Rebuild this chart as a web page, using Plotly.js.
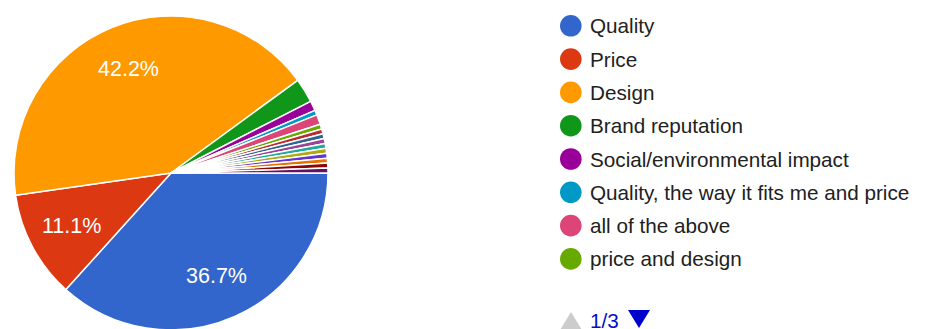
<!DOCTYPE html>
<html>
<head>
<meta charset="utf-8">
<script src="https://cdn.plot.ly/plotly-3.0.1.min.js"></script>
<style>
  html, body { margin: 0; padding: 0; background: #ffffff; overflow: hidden; }
  #chart { width: 926px; height: 340px; }
</style>
</head>
<body>
<div id="chart"></div>
<script>
// Survey answers: what matters most when choosing clothes (199 responses)
const answers = [
  "Quality", "Price", "Design", "Brand reputation",
  "Social/environmental impact", "Quality, the way it fits me and price",
  "all of the above", "price and design",
  "Other answer 9", "Other answer 10", "Other answer 11", "Other answer 12",
  "Other answer 13", "Other answer 14", "Other answer 15", "Other answer 16",
  "Other answer 17"
];
const responses = [73, 22, 84, 5, 2, 1, 2, 1, 1, 1, 1, 1, 1, 1, 1, 1, 1];
const sliceColors = [
  "#3366cc", "#dc3912", "#ff9900", "#109618", "#990099", "#0099c6",
  "#dd4477", "#66aa00", "#b82e2e", "#316395", "#994499", "#22aa99",
  "#aaaa11", "#6633cc", "#e67300", "#8b0707", "#651067"
];
// legend shows the first page of answers
const legendPageSize = 8;
const legendPage = "1/3";
// only slices at least this share get a percent label
const labelMinShare = 0.05;

const W = 926, H = 340;
const px = v => v / W;
const py = v => (H - v) / H;

// pie geometry in pixels
const pieLeft = 14, pieRight = 328, pieTop = 16, pieBottom = 330;
const cx = (pieLeft + pieRight) / 2, cy = (pieTop + pieBottom) / 2;
const radius = (pieRight - pieLeft) / 2;
const startDeg = 90; // first slice starts at 3 o'clock, runs clockwise

const pie = {
  type: "pie",
  labels: answers,
  values: responses,
  sort: false,
  direction: "clockwise",
  rotation: startDeg,
  marker: { colors: sliceColors, line: { color: "#ffffff", width: 1.5 } },
  textinfo: "none",
  showlegend: false,
  hoverinfo: "label+percent",
  domain: { x: [px(pieLeft), px(pieRight)], y: [py(pieBottom), py(pieTop)] }
};

const shapes = [];
const annotations = [];
const labelFont = { family: "Liberation Sans, Arial, sans-serif", size: 20.7, color: "#212121" };

// percent labels placed along each large slice's middle angle
const total = responses.reduce((a, b) => a + b, 0);
let cum = 0;
responses.forEach((v, i) => {
  const share = v / total;
  const midFrac = cum + share / 2;
  cum += share;
  if (share < labelMinShare) return;
  const ang = midFrac * 2 * Math.PI; // clockwise from 3 o'clock
  const lx = cx + Math.cos(ang) * radius * 0.715;
  const ly = cy + Math.sin(ang) * radius * 0.715;
  annotations.push({
    xref: "paper", yref: "paper", x: px(lx), y: py(ly),
    xanchor: "center", yanchor: "middle", showarrow: false,
    text: (share * 100).toFixed(1) + "%",
    font: { family: "Liberation Sans Narrow, Arial Narrow, Liberation Sans, sans-serif", size: 21.5, color: "#ffffff" }
  });
});

// legend rows: coloured dot + answer text
const rowTop = 25.8, rowStep = 33.3;
for (let i = 0; i < legendPageSize; i++) {
  const ry = rowTop + i * rowStep;
  shapes.push({
    type: "circle", xref: "paper", yref: "paper",
    xsizemode: "pixel", ysizemode: "pixel",
    xanchor: px(570.8), yanchor: py(ry),
    x0: -10.8, x1: 10.8, y0: -10.8, y1: 10.8,
    fillcolor: sliceColors[i], line: { width: 0 }
  });
  annotations.push({
    xref: "paper", yref: "paper", x: px(588), y: py(ry),
    xanchor: "left", yanchor: "middle", showarrow: false,
    text: answers[i], font: labelFont
  });
}

// pager below the legend
const tri = pts => "M " + pts.map(p => px(p[0]) + "," + py(p[1])).join(" L ") + " Z";
shapes.push({
  type: "path", xref: "paper", yref: "paper",
  path: tri([[560, 330], [571, 312], [582, 330]]),
  fillcolor: "#cccccc", line: { width: 0 }
});
shapes.push({
  type: "path", xref: "paper", yref: "paper",
  path: tri([[628, 310], [650, 310], [639, 328]]),
  fillcolor: "#0000cc", line: { width: 0 }
});
annotations.push({
  xref: "paper", yref: "paper", x: px(588), y: py(320.5),
  xanchor: "left", yanchor: "middle", showarrow: false,
  text: legendPage, font: { family: "Liberation Sans, Arial, sans-serif", size: 20.7, color: "#0011cc" }
});

const layout = {
  width: W, height: H,
  margin: { l: 0, r: 0, t: 0, b: 0 },
  paper_bgcolor: "#ffffff",
  plot_bgcolor: "#ffffff",
  showlegend: false,
  shapes: shapes,
  annotations: annotations
};

Plotly.newPlot("chart", [pie], layout, { displayModeBar: false, staticPlot: true });
</script>
</body>
</html>
